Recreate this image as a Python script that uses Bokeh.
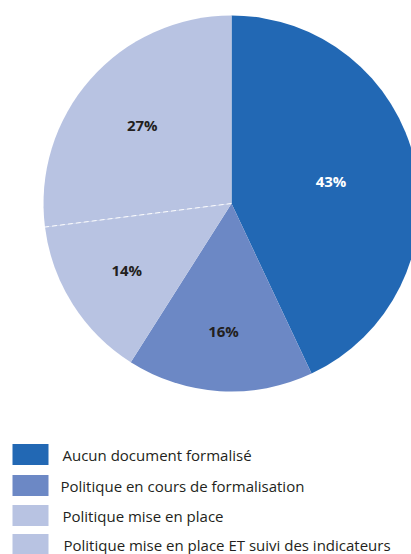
import math
from bokeh.plotting import figure
from bokeh.models import Range1d
from bokeh.core.properties import value
from bokeh.embed import file_html
from bokeh.resources import INLINE

categories = ["Aucun document formalisé",
              "Politique en cours de formalisation",
              "Politique mise en place",
              "Politique mise en place ET suivi des indicateurs"]
values = [43, 16, 14, 27]
labels = ["43%", "16%", "14%", "27%"]
colors = ["#2268b4", "#6c88c5", "#b8c3e2", "#b8c3e2"]
label_colors = ["#ffffff", "#231f20", "#231f20", "#231f20"]

# layout (page pixel coords; page y converted to data y = H - y)
W, H = 411, 554
cx, cy_page, R = 231, 203, 188
cy = H - cy_page
label_r = [102, 128, 124, 119]

p = figure(width=W, height=H, output_backend="svg",
           toolbar_location=None, x_range=Range1d(0, W),
           y_range=Range1d(0, H), min_border=0)
p.axis.visible = False
p.grid.visible = False
p.outline_line_color = None
p.background_fill_color = "white"

total = sum(values)
cum = 0.0
starts, ends = [], []
for v in values:
    starts.append(math.pi / 2 - 2 * math.pi * cum / total)
    cum += v
    ends.append(math.pi / 2 - 2 * math.pi * cum / total)

p.wedge(x=[cx] * 4, y=[cy] * 4, radius=R, start_angle=starts, end_angle=ends,
        direction="clock", fill_color=colors, line_color=None)

# dashed separator between the two light slices
a = starts[3]
p.line(x=[cx, cx + R * math.cos(a)], y=[cy, cy + R * math.sin(a)],
       line_color="white", line_width=1, line_dash="5 3")

# slice labels
lx, ly = [], []
for i in range(4):
    mid = (starts[i] + ends[i]) / 2
    lx.append(cx + label_r[i] * math.cos(mid))
    ly.append(cy + label_r[i] * math.sin(mid))
p.text(x=lx, y=ly, text=labels, text_color=label_colors,
       text_font=value("Open Sans"), text_font_style="bold",
       text_font_size="15px", text_align="center", text_baseline="middle")

# legend
sq_y = [H - y for y in [454, 485, 515, 544]]
sq_x = 30
p.rect(x=[sq_x] * 4, y=sq_y, width=36, height=21, fill_color=colors,
       line_color=None)
p.text(x=[62, 60, 62, 63], y=sq_y, text=categories, text_color="#231f20",
       text_font=value("Open Sans"), text_font_size="15px",
       text_align="left", text_baseline="middle")

open("out.html", "w").write(file_html(p, INLINE))
